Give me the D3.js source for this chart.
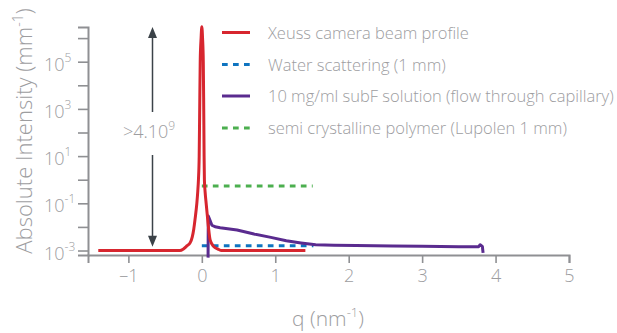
<!DOCTYPE html>
<html><head><meta charset="utf-8">
<script src="https://cdn.jsdelivr.net/npm/d3@7/dist/d3.min.js"></script>
<style>
html,body{margin:0;padding:0;background:#fff;}
text{font-family:"Open Sans","Noto Sans",sans-serif;font-weight:300;fill:#9d9d9f;}
</style></head>
<body><svg id="c" width="617" height="333"></svg>
<script>
// ---- data ----
const xTicks = [-1, 0, 1, 2, 3, 4, 5];
const yTickExps = [-3, -2, -1, 0, 1, 2, 3, 4, 5, 6];
const yLabelExps = [-3, -1, 1, 3, 5];
const seriesNames = ["Xeuss camera beam profile", "Water scattering (1 mm)",
  "10 mg/ml subF solution (flow through capillary)", "semi crystalline polymer (Lupolen 1 mm)"];
const beamProfile = [
  [-1.41, 1e-3], [-0.30, 1e-3], [-0.25, 1.17e-3], [-0.20, 1.6e-3], [-0.16, 2.1e-3],
  [-0.13, 3.8e-3], [-0.11, 8e-3], [-0.09, 2.4e-2], [-0.068, 0.1], [-0.055, 0.33],
  [-0.046, 1], [-0.036, 10], [-0.029, 1e3], [-0.022, 1e5], [-0.01, 1e6], [0, 3e6],
  [0.01, 1e6], [0.02, 1e5], [0.026, 1e3], [0.031, 10], [0.035, 1], [0.045, 0.3],
  [0.059, 0.1], [0.075, 0.03], [0.09, 1e-2], [0.113, 2.8e-3], [0.16, 1.5e-3],
  [0.22, 1.15e-3], [0.27, 1e-3], [1.41, 1e-3]];
const waterScattering = [[0, 1.6e-3], [1.52, 1.6e-3]];
const subFSolution = [
  [0.085, 5e-4], [0.088, 2.9e-2], [0.11, 1.95e-2], [0.136, 1.2e-2], [0.18, 1.02e-2],
  [0.25, 9.3e-3], [0.48, 7.4e-3], [0.71, 5e-3], [0.94, 3.6e-3], [1.15, 2.6e-3],
  [1.35, 2.1e-3], [1.55, 1.75e-3], [1.8, 1.68e-3], [2.1, 1.63e-3], [2.6, 1.55e-3],
  [3.0, 1.5e-3], [3.5, 1.45e-3], [3.77, 1.45e-3], [3.79, 1.75e-3], [3.82, 1.5e-3], [3.83, 8e-4]];
const lupolen = [[0, 0.54], [1.51, 0.54]];
const ratioLabel = ">4.10";
const ratioExp = "9";

// ---- chart ----
const svg = d3.select("#c");
const x = d3.scaleLinear().domain([-1.55, 5]).range([88, 569]);
const y = d3.scaleLog().domain([Math.pow(10, -3.19), Math.pow(10, 6.47)]).range([255, 27]);
const axisColor = "#8f9093";

// x axis
const gx = svg.append("g").attr("transform", "translate(0,255)")
  .call(d3.axisBottom(x).tickValues(xTicks).tickSize(8).tickPadding(6).tickFormat(d => d));
gx.select(".domain").attr("stroke", axisColor).attr("stroke-width", 2);
gx.selectAll(".tick line").attr("stroke", axisColor).attr("stroke-width", 1.6);
gx.selectAll(".tick text").attr("font-size", 18).attr("fill", "#9d9d9f")
  .style("font-family", "'Open Sans','Noto Sans',sans-serif").style("font-weight", 300)
  .text(d => d < 0 ? "\u2013" + Math.abs(d) : d);

// y axis
const gy = svg.append("g").attr("transform", "translate(88,0)")
  .call(d3.axisLeft(y).tickValues(yTickExps.map(e => Math.pow(10, e))).tickSize(10).tickFormat(""));
gy.select(".domain").attr("stroke", axisColor).attr("stroke-width", 2);
gy.selectAll(".tick line").attr("stroke", axisColor).attr("stroke-width", 1.6);

const yl = svg.append("g");
yLabelExps.forEach(e => {
  const t = yl.append("text").attr("x", 44).attr("y", y(Math.pow(10, e)) + 9).attr("font-size", 18);
  t.append("tspan").text("10");
  t.append("tspan").attr("font-size", 12).attr("dy", -9).text(e < 0 ? "-" + Math.abs(e) : e);
});

// axis titles
const yt = svg.append("text").attr("transform", "translate(32,131) rotate(-90)")
  .attr("text-anchor", "middle").attr("font-size", 22);
yt.append("tspan").text("Absolute Intensity (mm");
yt.append("tspan").attr("font-size", 14).attr("dy", -9).text("-1");
yt.append("tspan").attr("dy", 9).text(")");

const xt = svg.append("text").attr("x", 328).attr("y", 326).attr("text-anchor", "middle").attr("font-size", 21);
xt.append("tspan").text("q (nm");
xt.append("tspan").attr("font-size", 13).attr("dy", -9).text("-1");
xt.append("tspan").attr("dy", 9).text(")");

// arrow
const ax = 152.5, arrowColor = "#3b4248";
const yTop = y(Math.pow(10, 6.47)), yBot = y(Math.pow(10, -2.84));
svg.append("line").attr("x1", ax).attr("x2", ax).attr("y1", yTop + 8).attr("y2", 112).attr("stroke", arrowColor).attr("stroke-width", 1.5);
svg.append("line").attr("x1", ax).attr("x2", ax).attr("y1", 155).attr("y2", yBot - 8).attr("stroke", arrowColor).attr("stroke-width", 1.5);
svg.append("path").attr("d", `M${ax},${yTop} L${ax - 4.5},${yTop + 11} L${ax + 4.5},${yTop + 11} Z`).attr("fill", arrowColor);
svg.append("path").attr("d", `M${ax},${yBot} L${ax - 4.5},${yBot - 11} L${ax + 4.5},${yBot - 11} Z`).attr("fill", arrowColor);
const at = svg.append("text").attr("x", 149).attr("y", 138).attr("text-anchor", "middle").attr("font-size", 18);
at.append("tspan").text(ratioLabel);
at.append("tspan").attr("font-size", 12).attr("dy", -8).text(ratioExp);

// lines
const line = d3.line().x(d => x(d[0])).y(d => y(d[1]));
const lineSmooth = d3.line().x(d => x(d[0])).y(d => y(d[1])).curve(d3.curveMonotoneX);
const colors = ["#d7262f", "#0f74c0", "#5a2b8f", "#4caf4f"];
const dash = "5.7 5.3";

svg.append("path").datum(lupolen).attr("d", line).attr("fill", "none").attr("stroke", colors[3]).attr("stroke-width", 3).attr("stroke-dasharray", dash);
svg.append("path").datum(waterScattering).attr("d", line).attr("fill", "none").attr("stroke", colors[1]).attr("stroke-width", 3).attr("stroke-dasharray", dash);
svg.append("path").datum(subFSolution).attr("d", line).attr("fill", "none").attr("stroke", colors[2]).attr("stroke-width", 3).attr("stroke-linejoin", "round");
svg.append("path").datum(beamProfile).attr("d", lineSmooth).attr("fill", "none").attr("stroke", colors[0]).attr("stroke-width", 3).attr("stroke-linejoin", "round");

// legend
const legY = [32.5, 64.5, 96, 128];
const lg = svg.append("g");
seriesNames.forEach((name, i) => {
  lg.append("line").attr("x1", 222).attr("x2", 250).attr("y1", legY[i]).attr("y2", legY[i])
    .attr("stroke", colors[i]).attr("stroke-width", 3)
    .attr("stroke-dasharray", (i === 1 || i === 3) ? dash : null);
  lg.append("text").attr("x", 268).attr("y", legY[i] + 6).attr("font-size", 16.5).text(name);
});
</script></body></html>
